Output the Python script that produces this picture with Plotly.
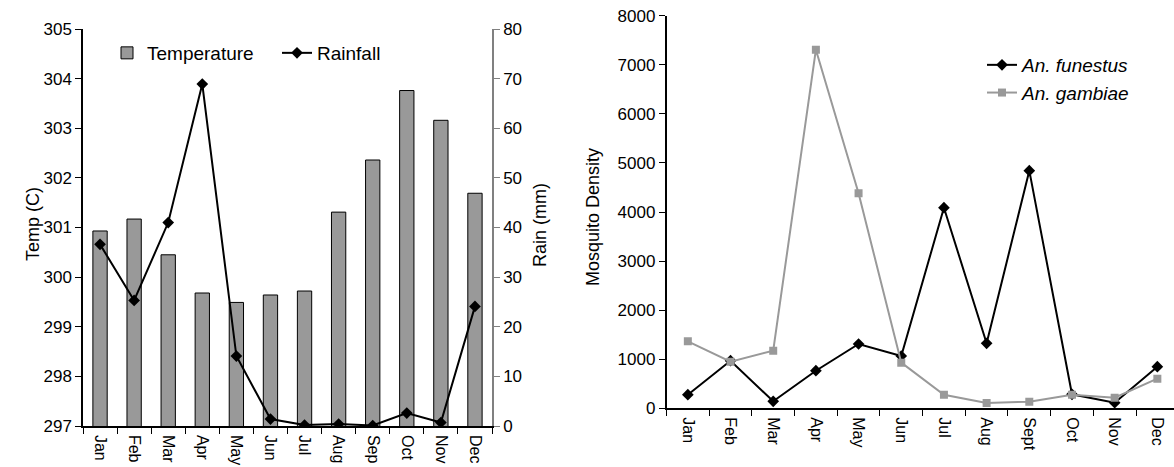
import plotly.graph_objects as go

# ---------------- data ----------------
months_climate = ["Jan", "Feb", "Mar", "Apr", "May", "Jun", "Jul", "Aug", "Sep", "Oct", "Nov", "Dec"]
temperature_k = [300.93, 301.17, 300.45, 299.68, 299.49, 299.64, 299.72, 301.31, 302.36, 303.76, 303.16, 301.69]
rainfall_mm = [36.6, 25.3, 41.0, 68.9, 14.1, 1.4, 0.2, 0.4, 0.1, 2.6, 0.7, 24.1]

months_mosq = ["Jan", "Feb", "Mar", "Apr", "May", "Jun", "Jul", "Aug", "Sept", "Oct", "Nov", "Dec"]
an_funestus = [277, 970, 143, 766, 1310, 1066, 4088, 1324, 4842, 285, 114, 848]
an_gambiae = [1365, 950, 1174, 7308, 4381, 930, 277, 108, 135, 277, 216, 603]

FONT = "Liberation Sans, Arial, Helvetica, sans-serif"
GRAY = "#999999"
W, H = 1174, 467

def px_x(p):
    return p / W

def px_y(p):
    return (H - p) / H

fig = go.Figure()

# ---------------- left chart ----------------
fig.add_trace(go.Bar(
    x=months_climate, y=temperature_k, name="Temperature",
    marker=dict(color=GRAY, line=dict(color="black", width=1)),
    xaxis="x", yaxis="y", legend="legend",
))
fig.add_trace(go.Scatter(
    x=months_climate, y=rainfall_mm, name="Rainfall", mode="lines+markers",
    line=dict(color="black", width=2),
    marker=dict(symbol="diamond", size=9, color="black"),
    xaxis="x", yaxis="y2", legend="legend",
))

# ---------------- right chart ----------------
fig.add_trace(go.Scatter(
    x=months_mosq, y=an_funestus, name="<i>An. funestus</i>", mode="lines+markers",
    line=dict(color="black", width=2),
    marker=dict(symbol="diamond", size=9, color="black"),
    xaxis="x3", yaxis="y3", legend="legend2",
))
fig.add_trace(go.Scatter(
    x=months_mosq, y=an_gambiae, name="<i>An. gambiae</i>", mode="lines+markers",
    line=dict(color=GRAY, width=2),
    marker=dict(symbol="square", size=8, color=GRAY),
    xaxis="x3", yaxis="y3", legend="legend2",
))

tick_font = dict(family=FONT, size=17, color="black")
month_font = dict(family=FONT, size=16, color="black")

common_x = dict(
    type="category", showline=True, linecolor="black", linewidth=1.5,
    ticks="outside", ticklen=6, tickcolor="black", tickson="boundaries",
    tickangle=90, tickfont=month_font, showgrid=False, zeroline=False,
    ticklabelstandoff=4,
)

fig.update_layout(
    width=W, height=H,
    margin=dict(l=0, r=0, t=0, b=0),
    paper_bgcolor="white", plot_bgcolor="white",
    template="none",
    font=dict(family=FONT, size=17, color="black"),
    bargap=0.58,
    xaxis=dict(common_x, domain=[px_x(83), px_x(492)], anchor="y", range=[-0.5, 11.5]),
    yaxis=dict(
        domain=[px_y(426), px_y(29)], anchor="x", range=[297, 305], dtick=1,
        showline=True, linecolor="black", linewidth=1.5, ticks="outside", ticklen=6,
        tickcolor="black", tickfont=tick_font, showgrid=False, zeroline=False,
    ),
    yaxis2=dict(
        overlaying="y", side="right", anchor="x", range=[0, 80], dtick=10,
        showline=True, linecolor="#808080", linewidth=1.5, ticks="outside", ticklen=6,
        tickcolor="#808080", tickfont=tick_font, showgrid=False, zeroline=False,
    ),
    xaxis3=dict(common_x, domain=[px_x(666.5), 1.0], anchor="y3", range=[-0.5, 11.39]),
    yaxis3=dict(
        domain=[px_y(408.3), px_y(15.7)], anchor="x3", range=[0, 8000], dtick=1000,
        showline=True, linecolor="black", linewidth=1.5, ticks="outside", ticklen=6,
        tickcolor="black", tickfont=tick_font, showgrid=False, zeroline=False,
    ),
    legend=dict(
        orientation="h", x=px_x(107), y=px_y(34), xanchor="left", yanchor="top",
        bgcolor="rgba(0,0,0,0)", font=dict(family=FONT, size=19, color="black"),
        entrywidth=125, itemwidth=30,
    ),
    legend2=dict(
        orientation="v", x=px_x(982), y=px_y(46), xanchor="left", yanchor="top",
        bgcolor="rgba(0,0,0,0)", font=dict(family=FONT, size=19, color="black"),
        itemwidth=30,
    ),
    annotations=[
        dict(text="Temp (C)", x=px_x(21), y=px_y(224), xref="paper", yref="paper",
             textangle=-90, showarrow=False, font=dict(family=FONT, size=18, color="black")),
        dict(text="Rain (mm)", x=px_x(540), y=px_y(225), xref="paper", yref="paper",
             textangle=-90, showarrow=False, font=dict(family=FONT, size=18, color="black")),
        dict(text="Mosquito Density", x=px_x(593), y=px_y(217), xref="paper", yref="paper",
             textangle=-90, showarrow=False, font=dict(family=FONT, size=18, color="black")),
    ],
)

fig.write_html(
    "out.html",
    config={"displayModeBar": False},
    post_script="document.body.style.margin='0';document.body.style.overflow='hidden';"
                "document.documentElement.style.overflow='hidden';",
)
